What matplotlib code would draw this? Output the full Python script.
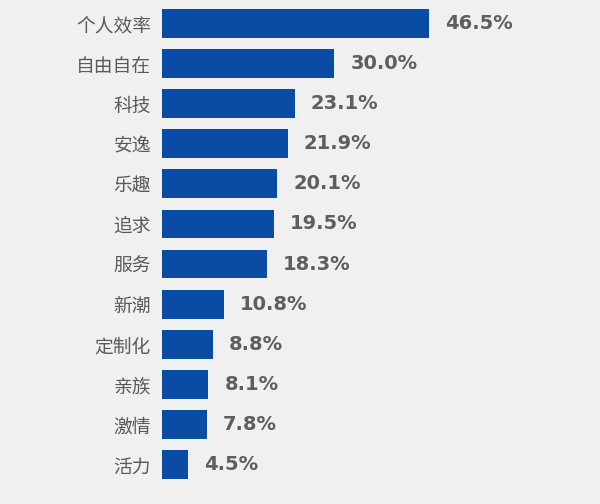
import matplotlib
matplotlib.use("Agg")
import matplotlib.pyplot as plt

categories = ["个人效率", "自由自在", "科技", "安逸", "乐趣", "追求", "服务", "新潮", "定制化", "亲族", "激情", "活力"]
values = [46.5, 30.0, 23.1, 21.9, 20.1, 19.5, 18.3, 10.8, 8.8, 8.1, 7.8, 4.5]
value_labels = ["46.5%", "30.0%", "23.1%", "21.9%", "20.1%", "19.5%", "18.3%", "10.8%", "8.8%", "8.1%", "7.8%", "4.5%"]

plt.rcParams['font.family'] = ['Noto Sans CJK SC', 'DejaVu Sans']
bg = "#eff0ef"
fig = plt.figure(figsize=(6, 5.04), dpi=100, facecolor=bg)
ax = fig.add_axes([162/600, 1 - 484.5/504, 1 - 162/600, 481/504])
ax.set_facecolor(bg)

ypos = list(range(len(categories)))
ax.barh(ypos, values, height=0.72, color="#0a4ba3")
ax.set_ylim(len(categories) - 0.5, -0.5)
ax.set_xlim(0, 438/5.74)

for y, v, lab in zip(ypos, values, value_labels):
    ax.text(v + 2.8, y, lab, va="center", ha="left", fontsize=14, fontweight="bold",
            color="#5e5e5e", family=["DejaVu Sans"])

ax.set_yticks(ypos)
ax.set_yticklabels(categories, fontsize=13.5, color="#5a5a5a")
ax.tick_params(axis="y", length=0, pad=8)
ax.set_xticks([])
for s in ax.spines.values():
    s.set_visible(False)

fig.savefig("out.png", dpi=100, facecolor=bg)
